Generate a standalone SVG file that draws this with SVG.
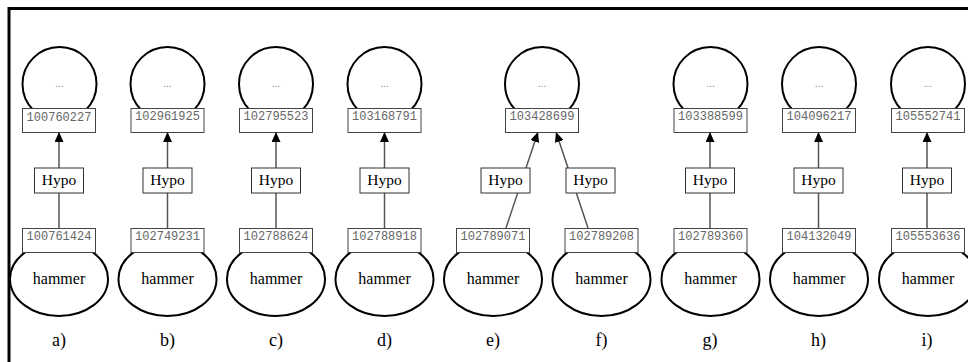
<svg xmlns="http://www.w3.org/2000/svg" width="968" height="362" viewBox="0 0 968 362">
<style>
.syn{fill:#fff;stroke:#000;stroke-width:2}
.lbl{fill:#fff;stroke:#444;stroke-width:1}
.num{font-family:"Liberation Mono",monospace;font-size:12px;fill:#666;text-anchor:middle}
.dots{font-family:"Liberation Sans",sans-serif;font-size:10px;fill:#888;text-anchor:middle}
.tm{font-family:"Liberation Serif",serif;font-size:16px;fill:#000;text-anchor:middle}
.hy{font-family:"Liberation Serif",serif;font-size:15.5px;fill:#000;text-anchor:middle}
.cap{font-family:"Liberation Serif",serif;font-size:18px;fill:#000;text-anchor:middle}
.edge{stroke:#555;stroke-width:1.5;fill:none;marker-end:url(#ah)}
.hbox{fill:#fff;stroke:#333;stroke-width:1}
</style>
<defs>
<marker id="ah" markerUnits="userSpaceOnUse" markerWidth="10" markerHeight="9" refX="10" refY="4.5" orient="auto">
<path d="M0,0 L10,4.5 L0,9 z" fill="#000"/>
</marker>
</defs>
<rect width="968" height="362" fill="#fff"/>
<path d="M9,362 V8.5 H968" fill="none" stroke="#000" stroke-width="3"/>

<g id="connectors">
<line class="edge" x1="59" y1="228" x2="59" y2="132"/>
<line class="edge" x1="167.5" y1="228" x2="167.5" y2="132"/>
<line class="edge" x1="276" y1="228" x2="276" y2="132"/>
<line class="edge" x1="384.5" y1="228" x2="384.5" y2="132"/>
<line class="edge" x1="506" y1="228" x2="538" y2="132"/>
<line class="edge" x1="588" y1="228" x2="556" y2="132"/>
<line class="edge" x1="710" y1="228" x2="710" y2="132"/>
<line class="edge" x1="818.5" y1="228" x2="818.5" y2="132"/>
<line class="edge" x1="927" y1="228" x2="927" y2="132"/>
<g id="hypo-a"><rect class="hbox" x="34.5" y="168" width="49" height="25"/><text class="hy" x="59" y="185">Hypo</text></g>
<g id="hypo-b"><rect class="hbox" x="143" y="168" width="49" height="25"/><text class="hy" x="167.5" y="185">Hypo</text></g>
<g id="hypo-c"><rect class="hbox" x="251.5" y="168" width="49" height="25"/><text class="hy" x="276" y="185">Hypo</text></g>
<g id="hypo-d"><rect class="hbox" x="360" y="168" width="49" height="25"/><text class="hy" x="384.5" y="185">Hypo</text></g>
<g id="hypo-e"><rect class="hbox" x="481" y="168" width="49" height="25"/><text class="hy" x="505.5" y="185">Hypo</text></g>
<g id="hypo-f"><rect class="hbox" x="566" y="168" width="49" height="25"/><text class="hy" x="590.5" y="185">Hypo</text></g>
<g id="hypo-g"><rect class="hbox" x="685.5" y="168" width="49" height="25"/><text class="hy" x="710" y="185">Hypo</text></g>
<g id="hypo-h"><rect class="hbox" x="794" y="168" width="49" height="25"/><text class="hy" x="818.5" y="185">Hypo</text></g>
<g id="hypo-i"><rect class="hbox" x="902.5" y="168" width="49" height="25"/><text class="hy" x="927" y="185">Hypo</text></g>
</g>

<g id="top-a"><circle class="syn" cx="59.5" cy="84" r="37"/><text class="dots" x="59.5" y="87">...</text><rect class="lbl" x="22.5" y="108.5" width="73" height="24"/><text class="num" x="59" y="120.5">100760227</text></g>
<g id="top-b"><circle class="syn" cx="167.5" cy="84" r="37"/><text class="dots" x="167.5" y="87">...</text><rect class="lbl" x="131" y="108.5" width="73" height="24"/><text class="num" x="167.5" y="119.5">102961925</text></g>
<g id="top-c"><circle class="syn" cx="276" cy="84" r="37"/><text class="dots" x="276" y="87">...</text><rect class="lbl" x="239.5" y="108.5" width="73" height="24"/><text class="num" x="276" y="119.5">102795523</text></g>
<g id="top-d"><circle class="syn" cx="384.5" cy="84" r="37"/><text class="dots" x="384.5" y="87">...</text><rect class="lbl" x="348" y="108.5" width="73" height="24"/><text class="num" x="384.5" y="119.5">103168791</text></g>
<g id="top-ef"><circle class="syn" cx="542" cy="84" r="37"/><text class="dots" x="542" y="87">...</text><rect class="lbl" x="505.5" y="108.5" width="73" height="24"/><text class="num" x="542" y="119.5">103428699</text></g>
<g id="top-g"><circle class="syn" cx="710.5" cy="84" r="37"/><text class="dots" x="710.5" y="87">...</text><rect class="lbl" x="674" y="108.5" width="73" height="24"/><text class="num" x="710.5" y="119.5">103388599</text></g>
<g id="top-h"><circle class="syn" cx="819" cy="84" r="37"/><text class="dots" x="819" y="87">...</text><rect class="lbl" x="782.5" y="108.5" width="73" height="24"/><text class="num" x="819" y="119.5">104096217</text></g>
<g id="top-i"><circle class="syn" cx="928" cy="84" r="37"/><text class="dots" x="928" y="87">...</text><rect class="lbl" x="891.5" y="108.5" width="73" height="24"/><text class="num" x="928" y="119.5">105552741</text></g>

<g id="bot-a"><ellipse class="syn" cx="59" cy="279" rx="49" ry="37"/><rect class="lbl" x="22.5" y="228.5" width="73" height="24"/><text class="num" x="59" y="240">100761424</text><text class="tm" x="59" y="284">hammer</text></g>
<g id="bot-b"><ellipse class="syn" cx="167.5" cy="279" rx="49" ry="37"/><rect class="lbl" x="131" y="228.5" width="73" height="24"/><text class="num" x="167.5" y="240">102749231</text><text class="tm" x="167.5" y="284">hammer</text></g>
<g id="bot-c"><ellipse class="syn" cx="276" cy="279" rx="49" ry="37"/><rect class="lbl" x="239.5" y="228.5" width="73" height="24"/><text class="num" x="276" y="240">102788624</text><text class="tm" x="276" y="284">hammer</text></g>
<g id="bot-d"><ellipse class="syn" cx="384.5" cy="279" rx="49" ry="37"/><rect class="lbl" x="348" y="228.5" width="73" height="24"/><text class="num" x="384.5" y="240">102788918</text><text class="tm" x="384.5" y="284">hammer</text></g>
<g id="bot-e"><ellipse class="syn" cx="493" cy="279" rx="49" ry="37"/><rect class="lbl" x="456.5" y="228.5" width="73" height="24"/><text class="num" x="493" y="240">102789071</text><text class="tm" x="493" y="284">hammer</text></g>
<g id="bot-f"><ellipse class="syn" cx="601.5" cy="279" rx="49" ry="37"/><rect class="lbl" x="565" y="228.5" width="73" height="24"/><text class="num" x="601.5" y="240">102789208</text><text class="tm" x="601.5" y="284">hammer</text></g>
<g id="bot-g"><ellipse class="syn" cx="710.5" cy="279" rx="49" ry="37"/><rect class="lbl" x="674" y="228.5" width="73" height="24"/><text class="num" x="710.5" y="240">102789360</text><text class="tm" x="710.5" y="284">hammer</text></g>
<g id="bot-h"><ellipse class="syn" cx="819" cy="279" rx="49" ry="37"/><rect class="lbl" x="782.5" y="228.5" width="73" height="24"/><text class="num" x="819" y="240">104132049</text><text class="tm" x="819" y="284">hammer</text></g>
<g id="bot-i"><ellipse class="syn" cx="928" cy="279" rx="49" ry="37"/><rect class="lbl" x="891.5" y="228.5" width="73" height="24"/><text class="num" x="928" y="240">105553636</text><text class="tm" x="928" y="284">hammer</text></g>

<g id="captions">
<text class="cap" x="59" y="346">a)</text>
<text class="cap" x="167.5" y="346">b)</text>
<text class="cap" x="276" y="346">c)</text>
<text class="cap" x="384.5" y="346">d)</text>
<text class="cap" x="493" y="346">e)</text>
<text class="cap" x="601.5" y="346">f)</text>
<text class="cap" x="710" y="346">g)</text>
<text class="cap" x="818.5" y="346">h)</text>
<text class="cap" x="927" y="346">i)</text>
</g>
</svg>
